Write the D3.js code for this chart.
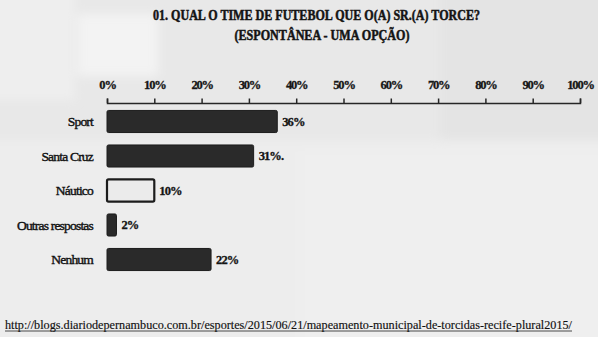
<!DOCTYPE html>
<html>
<head>
<meta charset="utf-8">
<script src="https://cdn.jsdelivr.net/npm/d3@7"></script>
<style>
  html, body { margin: 0; padding: 0; background: #ececec; }
  svg { display: block; }
</style>
</head>
<body>
<svg id="chart" width="598" height="337"></svg>
<script>
// Survey answers: which football club the respondent supports
const categories = ["Sport", "Santa Cruz", "Náutico", "Outras respostas", "Nenhum"];
const values = [36, 31, 10, 2, 22];
const labelSuffix = ["", ".", "", "", ""];
const ticks = [0, 10, 20, 30, 40, 50, 60, 70, 80, 90, 100];
const titleLines = ["01. QUAL O TIME DE FUTEBOL QUE O(A) SR.(A) TORCE?", "(ESPONTÂNEA - UMA OPÇÃO)"];
const sourceUrl = "http://blogs.diariodepernambuco.com.br/esportes/2015/06/21/mapeamento-municipal-de-torcidas-recife-plural2015/";

const W = 598, H = 337;
const svg = d3.select("#chart");
const serif = "'Liberation Serif', 'Times New Roman', serif";

// paper texture: soft grey patches of the printed sheet
const defs = svg.append("defs");
defs.append("filter").attr("id", "soft").attr("x", "-10%").attr("y", "-10%")
  .attr("width", "120%").attr("height", "120%")
  .append("feGaussianBlur").attr("stdDeviation", 5);
svg.append("rect").attr("width", W).attr("height", H).attr("fill", "#e8e8e8");
const paper = svg.append("g").attr("filter", "url(#soft)");
paper.append("rect").attr("x", -20).attr("y", -20).attr("width", 95).attr("height", 120).attr("fill", "#eeeeee");
paper.append("rect").attr("x", 78).attr("y", 14).attr("width", 80).attr("height", 62).attr("fill", "#f3f3f3");
paper.append("rect").attr("x", -20).attr("y", 140).attr("width", 640).attr("height", 220).attr("fill", "#ededed");
paper.append("rect").attr("x", 300).attr("y", 150).attr("width", 320).attr("height", 210).attr("fill", "#efefef");
paper.append("rect").attr("x", 440).attr("y", -20).attr("width", 180).attr("height", 160).attr("fill", "#e4e4e4");

const x = d3.scaleLinear().domain([0, 100]).range([107, 580]);
const y = d3.scaleBand().domain(categories).range([107, 274])
  .paddingInner(0.36).paddingOuter(0.1);

// title
svg.append("g").selectAll("text").data(titleLines).join("text")
  .attr("x", (d, i) => i === 0 ? 316.5 : 322)
  .attr("y", (d, i) => i === 0 ? 19.5 : 39.5)
  .attr("text-anchor", "middle")
  .attr("textLength", (d, i) => i === 0 ? 327 : 175)
  .attr("lengthAdjust", "spacingAndGlyphs")
  .attr("font-family", serif).attr("font-weight", "bold").attr("font-size", 14.5)
  .attr("fill", "#141414").attr("stroke", "#141414").attr("stroke-width", 0.5)
  .text(d => d);

// percentage axis across the top
const axis = svg.append("g").attr("transform", "translate(0,103)")
  .call(d3.axisTop(x).tickValues(ticks).tickSize(4.5).tickSizeOuter(4.5).tickPadding(10)
    .tickFormat(d => d + "%"));
axis.select(".domain").attr("stroke", "#262626").attr("stroke-width", 1.5);
axis.selectAll(".tick line").attr("stroke", "#262626").attr("stroke-width", 1.5);
axis.selectAll(".tick text")
  .attr("font-family", serif).attr("font-weight", "bold").attr("font-size", 12.5)
  .attr("letter-spacing", -1.2).attr("fill", "#161616")
  .attr("stroke", "#161616").attr("stroke-width", 0.3);

// bars
svg.append("g").selectAll("rect").data(categories).join("rect")
  .attr("x", x(0))
  .attr("y", d => y(d))
  .attr("width", (d, i) => x(values[i]) - x(0))
  .attr("height", y.bandwidth())
  .attr("rx", 1.5)
  .attr("fill", d => d === "Náutico" ? "#ebebeb" : "#2a2a2a")
  .attr("stroke", "#1c1c1c")
  .attr("stroke-width", d => d === "Náutico" ? 2.2 : 1);

// category labels
svg.append("g").selectAll("text").data(categories).join("text")
  .attr("x", 93)
  .attr("y", d => y(d) + y.bandwidth() / 2)
  .attr("dy", "0.35em")
  .attr("text-anchor", "end")
  .attr("font-family", serif).attr("font-size", 13.5).attr("letter-spacing", -0.8)
  .attr("fill", "#111").attr("stroke", "#111").attr("stroke-width", 0.4)
  .text(d => d);

// value labels
svg.append("g").selectAll("text").data(categories).join("text")
  .attr("x", (d, i) => x(values[i]) + 5)
  .attr("y", d => y(d) + y.bandwidth() / 2)
  .attr("dy", "0.35em")
  .attr("font-family", serif).attr("font-weight", "bold").attr("font-size", 12.5)
  .attr("letter-spacing", -0.9).attr("fill", "#151515")
  .attr("stroke", "#151515").attr("stroke-width", 0.3)
  .text((d, i) => values[i] + "%" + labelSuffix[i]);

// source link
svg.append("text")
  .attr("x", 5).attr("y", 329)
  .attr("textLength", 567).attr("lengthAdjust", "spacingAndGlyphs")
  .attr("font-family", serif).attr("font-size", 11.5).attr("fill", "#111")
  .attr("stroke", "#111").attr("stroke-width", 0.15)
  .text(sourceUrl);
svg.append("line").attr("x1", 5).attr("x2", 572).attr("y1", 331).attr("y2", 331)
  .attr("stroke", "#222").attr("stroke-width", 0.8);
</script>
</body>
</html>
